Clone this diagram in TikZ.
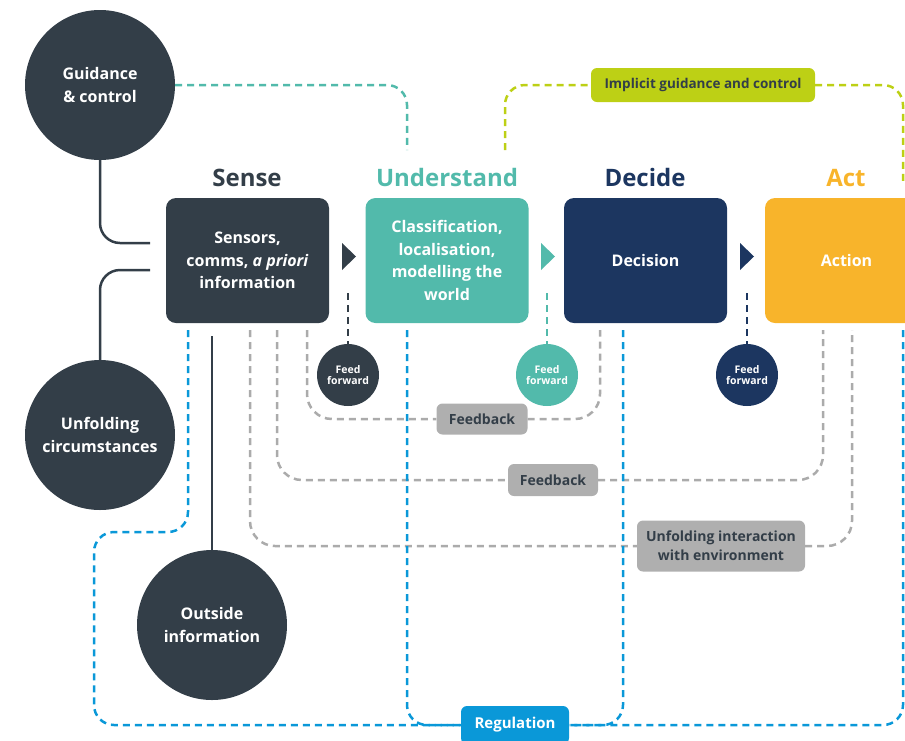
\documentclass[tikz,border=0pt]{standalone}
\usepackage{fontspec}
\setmainfont{Open Sans}
\usepackage{xcolor}
\usepackage{tikz}
\usetikzlibrary{positioning,calc}

\definecolor{slate}{HTML}{333E48}
\definecolor{teal}{HTML}{52BAAB}
\definecolor{navy}{HTML}{1C3660}
\definecolor{amber}{HTML}{F8B42B}
\definecolor{lime}{HTML}{BDD015}
\definecolor{regblue}{HTML}{0A98D8}
\definecolor{lgray}{HTML}{ABABAB}
\definecolor{tagbg}{HTML}{AFAFAF}

\tikzset{
  stagebox/.style={rounded corners=10pt, minimum width=163pt, minimum height=125pt,
    inner sep=0pt, text=white, align=center, font=\bfseries\fontsize{16}{22.5}\selectfont},
  stagehead/.style={anchor=base, font=\bfseries\fontsize{24}{30}\selectfont},
  bigdot/.style={circle, fill=slate, minimum size=150pt, inner sep=0pt, text=white,
    align=center, font=\bfseries\fontsize{16}{23}\selectfont},
  ffdot/.style={circle, minimum size=62pt, inner sep=0pt, text=white, align=center,
    font=\bfseries\fontsize{10.5}{10.5}\selectfont},
  tag/.style={rounded corners=6pt, fill=tagbg, text=slate, inner sep=0pt, align=center,
    font=\bfseries\fontsize{14}{19}\selectfont},
  wire/.style={draw=slate, line width=2.5pt, rounded corners=20pt},
  dashwire/.style={line width=2.5pt, dash pattern=on 7pt off 5pt},
  fbline/.style={dashwire, draw=lgray, rounded corners=25pt},
  regline/.style={dashwire, draw=regblue, rounded corners=20pt},
}

\begin{document}
\begin{tikzpicture}[x=1pt, y=-1pt]
\useasboundingbox (0,0) rectangle (905,740);
\clip (0,0) rectangle (905,740);

% stage headings
\node[stagehead, text=slate] (senseh) at (247,186) {Sense};
\node[stagehead, text=teal] (undh) at (447,186) {Understand};
\node[stagehead, text=navy] (dech) at (645,186) {Decide};
\node[stagehead, text=amber] (acth) at (846,186) {Act};

% stage boxes
\node[stagebox, fill=slate] (sense) at (247.5,260.5) {Sensors,\\comms, \textit{a priori}\\information};
\node[stagebox, fill=teal] (und) at (447,260.5) {Classification,\\localisation,\\modelling the\\world};
\node[stagebox, fill=navy] (dec) at (645.5,260.5) {Decision};
\node[stagebox, fill=amber] (act) at (846.5,260.5) {Action};

% arrow heads between stages
\fill[slate] (342,243) -- (356,256.5) -- (342,270) -- cycle;
\fill[teal] (541,243) -- (555,256.5) -- (541,270) -- cycle;
\fill[navy] (740,243) -- (754,256.5) -- (740,270) -- cycle;

% outer inputs
\node[bigdot] (gc) at (100,85) {Guidance\\\& control};
\node[bigdot] (uc) at (100,435) {Unfolding\\circumstances};
\node[bigdot] (oi) at (212,625) {Outside\\information};

% feed forward
\node[ffdot, fill=slate] (ffs) at (348,375) {Feed\\forward};
\node[ffdot, fill=teal] (ffu) at (547,375) {Feed\\forward};
\node[ffdot, fill=navy] (ffd) at (747,375) {Feed\\forward};

% tags
\node[tag, minimum width=91pt, minimum height=31pt] (fbin) at (482,419) {Feedback};
\node[tag, minimum width=90pt, minimum height=32pt] (fbout) at (553,480) {Feedback};
\node[tag, minimum width=168pt, minimum height=51pt] (env) at (721,546) {Unfolding interaction\\with environment};
\node[tag, fill=lime, minimum width=224pt, minimum height=34pt,
  font=\bfseries\fontsize{13.5}{16}\selectfont] (igc) at (703,85) {Implicit guidance and control};
\node[tag, fill=regblue, text=white, minimum width=108pt, minimum height=38pt,
  font=\bfseries\fontsize{15}{18}\selectfont] (reg) at (515,725) {Regulation};

% free ends
\coordinate (gcin) at (150,243);
\coordinate (ucin) at (150,270);
\coordinate (oiin) at (212,336);
\coordinate (gcdrop) at (407,150);
\coordinate (igcL) at (505,150);
\coordinate (igcR) at (903,185);
\coordinate (ffsin) at (348,293);
\coordinate (ffuin) at (547,293);
\coordinate (ffdin) at (747,293);
\coordinate (fbinL) at (307,330);
\coordinate (fbinR) at (600,330);
\coordinate (fboutL) at (277,330);
\coordinate (fboutR) at (823,330);
\coordinate (envL) at (250,330);
\coordinate (envR) at (852,330);
\coordinate (regS) at (188,330);
\coordinate (regK) at (94,532);
\coordinate (regU) at (407,330);
\coordinate (regD) at (623,330);
\coordinate (regA) at (903,330);

% solid links
\draw[wire] (gc) |- (gcin);
\draw[wire] (uc) |- (ucin);
\draw[wire] (oi) -- (oiin);

% guidance
\draw[dashwire, draw=teal, rounded corners=20pt] (gc) -| (gcdrop);
\draw[dashwire, draw=lime, rounded corners=20pt] (igcL) |- (igc);
\draw[dashwire, draw=lime, rounded corners=20pt] (igc) -| (igcR);

% feed forward drops
\draw[dashwire, draw=slate] (ffsin) -- (ffs);
\draw[dashwire, draw=teal] (ffuin) -- (ffu);
\draw[dashwire, draw=navy] (ffdin) -- (ffd);

% feedback loops
\draw[fbline] (fbinL) |- (fbin);
\draw[fbline] (fbin) -| (fbinR);
\draw[fbline] (fboutL) |- (fbout);
\draw[fbline] (fbout) -| (fboutR);
\draw[fbline] (envL) |- (env);
\draw[fbline] (env) -| (envR);

% regulation
\draw[regline] (regS) |- (regK) |- (reg);
\draw[regline] (regU) |- (reg);
\draw[regline] (regD) |- (reg);
\draw[regline] (regA) |- (reg);
\end{tikzpicture}
\end{document}
